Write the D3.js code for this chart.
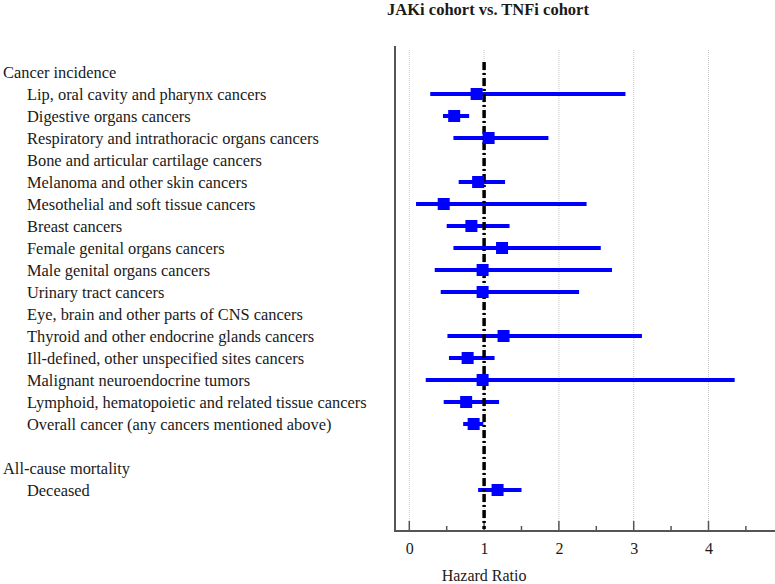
<!DOCTYPE html>
<html>
<head>
<meta charset="utf-8">
<script src="https://cdn.jsdelivr.net/npm/d3@7"></script>
<style>
  body { margin: 0; background: #fff; }
  text { font-family: "Liberation Serif", "Times New Roman", serif; fill: #1a1a1a; }
</style>
</head>
<body>
<svg id="chart"></svg>
<script>
// rows of the forest plot, top to bottom ("" = blank spacer row)
var labels = [
  "Cancer incidence",
  "Lip, oral cavity and pharynx cancers",
  "Digestive organs cancers",
  "Respiratory and intrathoracic organs cancers",
  "Bone and articular cartilage cancers",
  "Melanoma and other skin cancers",
  "Mesothelial and soft tissue cancers",
  "Breast cancers",
  "Female genital organs cancers",
  "Male genital organs cancers",
  "Urinary tract cancers",
  "Eye, brain and other parts of CNS cancers",
  "Thyroid and other endocrine glands cancers",
  "Ill-defined, other unspecified sites cancers",
  "Malignant neuroendocrine tumors",
  "Lymphoid, hematopoietic and related tissue cancers",
  "Overall cancer (any cancers mentioned above)",
  "",
  "All-cause mortality",
  "Deceased"
];
var isHeader = [1,0,0,0,0,0,0,0,0,0,0,0,0,0,0,0,0,0,1,0];

// hazard ratio and 95% CI (null = not estimated)
var hr    = [null, 0.90, 0.60, 1.06, null, 0.92, 0.46, 0.83, 1.24, 0.98, 0.98, null, 1.26, 0.78, 0.98, 0.76, 0.86, null, null, 1.18];
var lower = [null, 0.28, 0.45, 0.59, null, 0.66, 0.09, 0.50, 0.59, 0.34, 0.42, null, 0.51, 0.53, 0.22, 0.46, 0.72, null, null, 0.92];
var upper = [null, 2.89, 0.80, 1.86, null, 1.28, 2.37, 1.34, 2.56, 2.71, 2.27, null, 3.11, 1.14, 4.35, 1.20, 0.99, null, null, 1.50];

var majorTicks = [0, 1, 2, 3, 4];
var minorTicks = [0.5, 1.5, 2.5, 3.5, 4.5];

var W = 775, H = 584;
var svg = d3.select('#chart').attr('width', W).attr('height', H);

var plotTop = 50, plotBottom = 531, axisX = 395;

var x = d3.scaleLinear().domain([0, 4]).range([409.3, 708.5]);
var y = d3.scaleLinear().domain([0, labels.length - 1]).range([72, 490]);

var rows = labels.map(function(l, i) {
  return {label: l, header: isHeader[i], hr: hr[i], lo: lower[i], hi: upper[i], i: i};
});

// title
svg.append('text')
  .attr('x', 488).attr('y', 15)
  .attr('text-anchor', 'middle')
  .attr('font-size', 16.5).attr('font-weight', 'bold')
  .text('JAKi cohort vs. TNFi cohort');

// grid lines
svg.selectAll('.grid')
  .data(majorTicks)
  .enter().append('line')
    .attr('x1', function(d) { return x(d); })
    .attr('x2', function(d) { return x(d); })
    .attr('y1', plotTop).attr('y2', plotBottom)
    .attr('stroke', '#c8c8c8')
    .attr('stroke-width', 1)
    .attr('stroke-dasharray', '1,1');

// left frame line
svg.append('line')
  .attr('x1', axisX).attr('x2', axisX)
  .attr('y1', plotTop - 4).attr('y2', plotBottom)
  .attr('stroke', '#555').attr('stroke-width', 2);

// bottom axis
var axis = d3.axisBottom(x)
  .tickValues(majorTicks)
  .tickSize(0)
  .tickPadding(12)
  .tickFormat(d3.format('d'));

var gx = svg.append('g')
  .attr('transform', 'translate(0,' + plotBottom + ')')
  .call(axis);
gx.select('.domain').remove();
gx.selectAll('text')
  .attr('font-family', '"Liberation Serif", serif')
  .attr('font-size', 16)
  .attr('fill', '#333');

svg.append('line')
  .attr('x1', axisX - 1).attr('x2', W)
  .attr('y1', plotBottom).attr('y2', plotBottom)
  .attr('stroke', '#555').attr('stroke-width', 2);

svg.selectAll('.majtick')
  .data(majorTicks)
  .enter().append('line')
    .attr('x1', function(d) { return x(d); })
    .attr('x2', function(d) { return x(d); })
    .attr('y1', plotBottom - 10).attr('y2', plotBottom)
    .attr('stroke', '#555').attr('stroke-width', 1.5);

svg.selectAll('.mintick')
  .data(minorTicks)
  .enter().append('line')
    .attr('x1', function(d) { return x(d); })
    .attr('x2', function(d) { return x(d); })
    .attr('y1', plotBottom - 5).attr('y2', plotBottom)
    .attr('stroke', '#555').attr('stroke-width', 1.5);

svg.append('text')
  .attr('x', x(1)).attr('y', 581)
  .attr('text-anchor', 'middle')
  .attr('font-size', 16)
  .text('Hazard Ratio');

// row labels
svg.selectAll('.label')
  .data(rows)
  .enter().append('text')
    .attr('x', function(d) { return d.header ? 3 : 27; })
    .attr('y', function(d) { return y(d.i) + 5.5; })
    .attr('font-size', 16.4)
    .text(function(d) { return d.label; });

var est = rows.filter(function(d) { return d.hr !== null; });

// confidence intervals
svg.selectAll('.ci')
  .data(est)
  .enter().append('line')
    .attr('x1', function(d) { return x(d.lo); })
    .attr('x2', function(d) { return x(d.hi); })
    .attr('y1', function(d) { return y(d.i); })
    .attr('y2', function(d) { return y(d.i); })
    .attr('stroke', '#0000ff').attr('stroke-width', 4);

// reference line at HR = 1 (over the CI lines, under the squares)
svg.append('line')
  .attr('x1', x(1)).attr('x2', x(1))
  .attr('y1', 62).attr('y2', plotBottom - 2)
  .attr('stroke', '#000').attr('stroke-width', 3.5)
  .attr('stroke-dasharray', '8,3,2,3');

// point estimates
var sq = 12;
svg.selectAll('.pt')
  .data(est)
  .enter().append('rect')
    .attr('x', function(d) { return x(d.hr) - sq / 2; })
    .attr('y', function(d) { return y(d.i) - sq / 2; })
    .attr('width', sq).attr('height', sq)
    .attr('fill', '#0000ff');
</script>
</body>
</html>
